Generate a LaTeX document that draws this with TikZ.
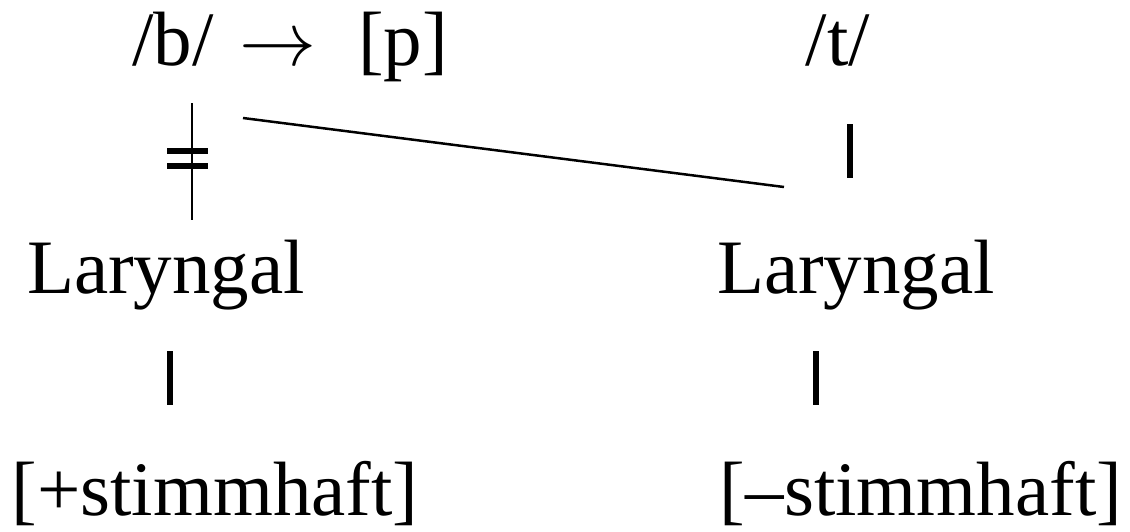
\documentclass[tikz,border=0pt]{standalone}
\usepackage{fix-cm}
\usepackage{fontspec}
\setmainfont{Liberation Serif}
\usetikzlibrary{positioning}
\tikzset{
  lbl/.style={inner sep=0pt, anchor=base, font=\fontsize{77}{90}\selectfont},
  bar/.style={line width=6pt},
  link/.style={line width=2.5pt}
}

\begin{document}
\begin{tikzpicture}[x=1pt, y=-1pt]
    \useasboundingbox (0,0) rectangle (1130,531);

    % obere Zeile
    \node[lbl] (b) at (173,65) {/b/};
    \node[lbl] (arr) at (278,65) {$\rightarrow$};
    \node[lbl] (p) at (403,65) {[p]};
    \node[lbl] (t) at (838,65) {/t/};

    % Laryngal-Knoten
    \node[lbl] (lar1) at (166,293) {Laryngal};
    \node[lbl] (lar2) at (856,293) {Laryngal};

    % Merkmale
    \node[lbl] (f1) at (215,515) {[+stimmhaft]};
    \node[lbl] (f2) at (921,515) {[--stimmhaft]};

    % Verbindung /b/ - Laryngal, getrennt
    \coordinate (b1) at (192,103);
    \coordinate (b2) at (192,220);
    \draw[link] (b1) -- (b2);
    \draw[line width=5.5pt] (167,151) -- (208,151);
    \draw[line width=5.5pt] (167,166) -- (208,166);

    % Assimilation
    \coordinate (s1) at (243,118);
    \coordinate (s2) at (784,187);
    \draw[link] (s1) -- (s2);

    % kurze Striche
    \coordinate (t1) at (850,124);
    \coordinate (t2) at (850,178);
    \draw[bar] (t1) -- (t2);
    \coordinate (l1) at (170,351);
    \coordinate (l2) at (170,405);
    \draw[bar] (l1) -- (l2);
    \coordinate (r1) at (816,351);
    \coordinate (r2) at (816,405);
    \draw[bar] (r1) -- (r2);
\end{tikzpicture}
\end{document}
